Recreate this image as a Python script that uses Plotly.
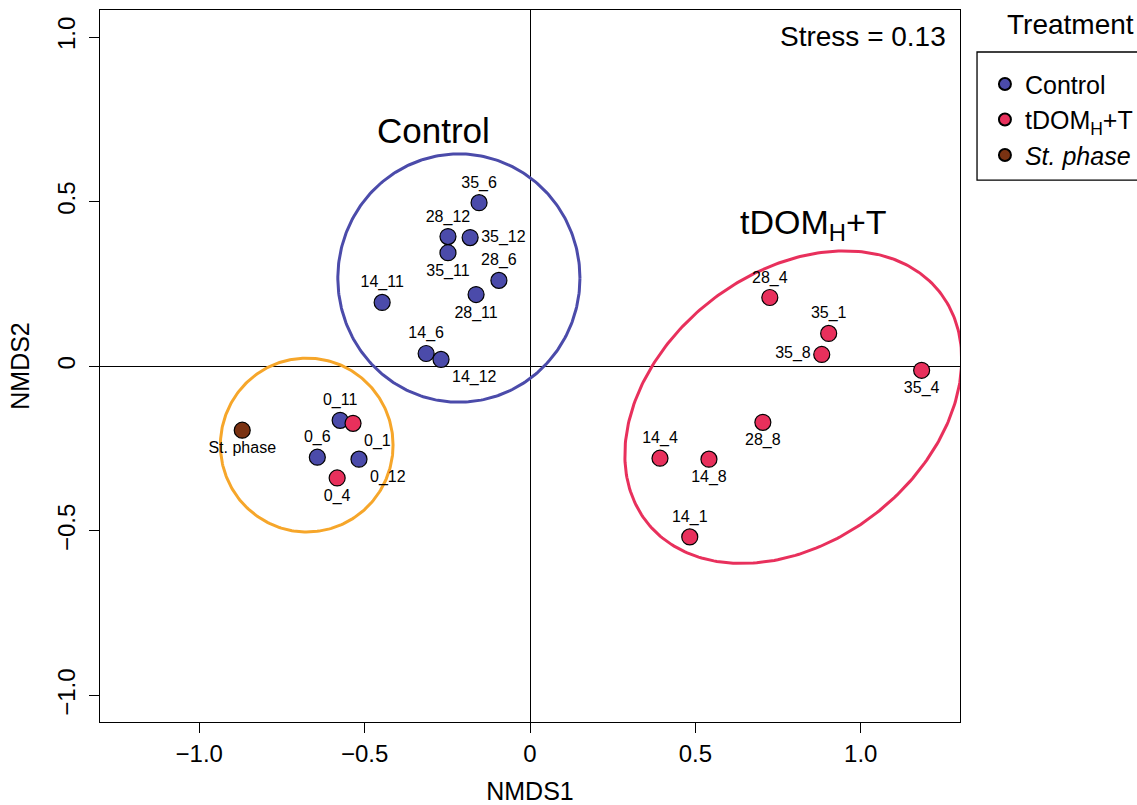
import numpy as np
import plotly.graph_objects as go

# ---- data ----
ctrl_labels = ["35_6", "28_12", "35_12", "35_11", "28_6", "28_11", "14_11", "14_6", "14_12", "0_11", "0_6", "0_12"]
ctrl_x = [-0.154, -0.248, -0.181, -0.248, -0.094, -0.163, -0.447, -0.314, -0.269, -0.574, -0.643, -0.517]
ctrl_y = [0.497, 0.394, 0.391, 0.345, 0.261, 0.218, 0.194, 0.039, 0.021, -0.164, -0.276, -0.282]

tdom_labels = ["0_1", "0_4", "28_4", "35_1", "35_8", "35_4", "28_8", "14_4", "14_8", "14_1"]
tdom_x = [-0.535, -0.583, 0.725, 0.903, 0.882, 1.184, 0.704, 0.393, 0.541, 0.483]
tdom_y = [-0.173, -0.339, 0.209, 0.100, 0.036, -0.012, -0.170, -0.279, -0.282, -0.518]

st_labels = ["St. phase"]
st_x = [-0.870]
st_y = [-0.194]

# ellipses: center x, center y, semi-axis a, semi-axis b, angle (deg)
ell_control = [-0.215, 0.268, 0.366, 0.377, 0.0]
ell_tdom = [0.796, -0.124, 0.564, 0.408, 38.5]
ell_stphase = [-0.675, -0.239, 0.261, 0.264, 0.0]

x_ticks = [-1.0, -0.5, 0, 0.5, 1.0]
x_ticklabels = ["\u22121.0", "\u22120.5", "0", "0.5", "1.0"]
y_ticks = [-1.0, -0.5, 0, 0.5, 1.0]
y_ticklabels = ["\u22121.0", "\u22120.5", "0", "0.5", "1.0"]

# label placement (style)
ctrl_pos = ["top center", "top center", "middle right", "bottom center", "top center", "bottom center",
            "top center", "top center", "bottom right", "top center", "top center", "bottom right"]
tdom_pos = ["bottom right", "bottom center", "top center", "top center", "middle left", "bottom center",
            "bottom center", "top center", "bottom center", "top center"]
st_pos = ["bottom center"]

C_BLUE = "#4B4BAA"
C_RED = "#E8305C"
C_BROWN = "#7A3212"
C_ORANGE = "#F6A62A"
FONT = "Liberation Sans, Arial, Helvetica, sans-serif"


def ellipse(p, n=300):
    cx, cy, a, b, ang = p
    t = np.linspace(0, 2 * np.pi, n)
    th = np.deg2rad(ang)
    x = cx + a * np.cos(t) * np.cos(th) - b * np.sin(t) * np.sin(th)
    y = cy + a * np.cos(t) * np.sin(th) + b * np.sin(t) * np.cos(th)
    return x, y


fig = go.Figure()

for p, col in [(ell_control, C_BLUE), (ell_tdom, C_RED), (ell_stphase, C_ORANGE)]:
    ex, ey = ellipse(p)
    fig.add_trace(go.Scatter(x=ex, y=ey, mode="lines", line=dict(color=col, width=3),
                             showlegend=False, hoverinfo="skip"))


def pts(x, y, labels, pos, col, name):
    fig.add_trace(go.Scatter(
        x=x, y=y, mode="markers+text", text=labels, textposition=pos,
        textfont=dict(size=16, color="black", family=FONT),
        marker=dict(size=16, color=col, line=dict(color="black", width=1.2)),
        name=name, showlegend=False, cliponaxis=False))
    # legend entry
    fig.add_trace(go.Scatter(x=[None], y=[None], mode="markers",
                             marker=dict(size=16, color=col, line=dict(color="black", width=1.2)),
                             name=name, showlegend=True))


pts(ctrl_x, ctrl_y, ctrl_labels, ctrl_pos, C_BLUE, "Control")
pts(tdom_x, tdom_y, tdom_labels, tdom_pos, C_RED, "tDOM<sub>H</sub>+T")
pts(st_x, st_y, st_labels, st_pos, C_BROWN, "<i>St. phase</i>")

# plot area in page pixels: x 100..960, y 10..722
fig.update_layout(
    width=1137, height=805,
    margin=dict(l=100, r=177, t=10, b=83, autoexpand=False),
    paper_bgcolor="white", plot_bgcolor="white",
    font=dict(family=FONT, color="black", size=24),
    showlegend=True,
    legend=dict(x=1.029, y=0.928, xanchor="left", yanchor="top",
                borderwidth=0, bgcolor="rgba(0,0,0,0)",
                font=dict(size=25, family=FONT), itemsizing="constant",
                tracegroupgap=0),
    shapes=[dict(type="rect", xref="paper", yref="paper",
                 x0=1.0198, x1=1.215, y0=0.7612, y1=0.941,
                 line=dict(color="black", width=1.3), fillcolor="rgba(0,0,0,0)")],
    annotations=[
        dict(text="Treatment", x=1.128, y=0.9803, xref="paper", yref="paper",
             xanchor="center", yanchor="middle", showarrow=False, font=dict(size=28)),
        dict(text="Stress = 0.13", x=0.986, y=0.9621, xref="paper", yref="paper",
             xanchor="right", yanchor="middle", showarrow=False, font=dict(size=28)),
        dict(text="Control", x=-0.293, y=0.715,
             xref="x", yref="y", xanchor="center", yanchor="middle", showarrow=False,
             font=dict(size=35)),
        dict(text="tDOM<sub>H</sub>+T", x=0.858, y=0.43,
             xref="x", yref="y", xanchor="center", yanchor="middle", showarrow=False,
             font=dict(size=34)),
    ],
)

fig.update_xaxes(range=[-1.3, 1.3], tickvals=x_ticks, ticktext=x_ticklabels,
                 showline=True, linecolor="black", linewidth=1.3, mirror=True,
                 ticks="outside", ticklen=10, tickcolor="black", tickwidth=1,
                 showgrid=False, zeroline=True, zerolinecolor="black", zerolinewidth=1,
                 automargin=False,
                 tickfont=dict(size=24), title=dict(text="NMDS1", font=dict(size=25), standoff=16))
fig.update_yaxes(range=[-1.08, 1.082], tickvals=y_ticks, ticktext=y_ticklabels,
                 showline=True, linecolor="black", linewidth=1.3, mirror=True,
                 ticks="outside", ticklen=10, tickcolor="black", tickwidth=1, tickangle=-90,
                 ticklabelstandoff=4, automargin=False,
                 showgrid=False, zeroline=True, zerolinecolor="black", zerolinewidth=1,
                 tickfont=dict(size=24), title=dict(text="NMDS2", font=dict(size=25), standoff=16))

fig.write_html("out.html", config={"displayModeBar": False},
               post_script="document.body.style.margin='0px';document.body.style.overflow='hidden';")
